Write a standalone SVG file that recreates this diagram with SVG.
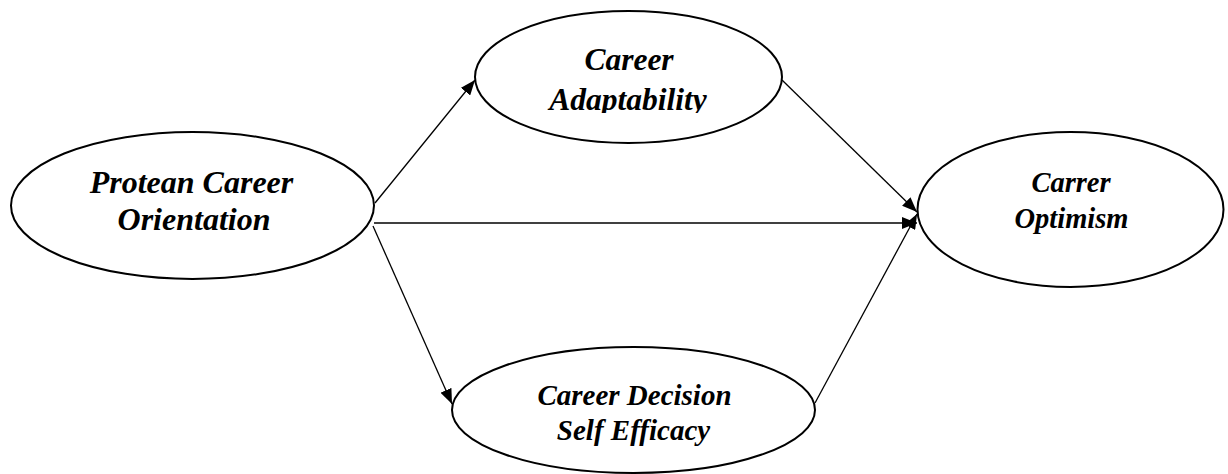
<svg xmlns="http://www.w3.org/2000/svg" width="1228" height="474" viewBox="0 0 1228 474">
  <style>
    .node ellipse { fill: #ffffff; stroke: #000000; stroke-width: 2; }
    .node text { font-weight: bold; font-style: italic; fill: #000000; text-anchor: middle; }
    .edge { stroke: #000000; stroke-width: 1.3; fill: none; marker-end: url(#arrow); }
  </style>
  <defs>
    <marker id="arrow" markerUnits="userSpaceOnUse" markerWidth="16" markerHeight="12" refX="15" refY="6" orient="auto">
      <path d="M0,0 L15,6 L0,12 Z" fill="#000000"/>
    </marker>
    <clipPath id="clipAdapt">
      <rect x="470" y="0" width="320" height="113"/>
    </clipPath>
  </defs>
  <rect width="1228" height="474" fill="#ffffff"/>

  <g id="connectors">
    <line class="edge" x1="375" y1="203" x2="475" y2="80"/>
    <line class="edge" x1="782" y1="80" x2="917" y2="212"/>
    <line class="edge" x1="374" y1="223" x2="917" y2="223"/>
    <line class="edge" x1="373" y1="226" x2="452" y2="404"/>
    <line class="edge" x1="815" y1="403" x2="917" y2="214"/>
  </g>

  <g id="protean" class="node" font-family="'Liberation Serif', 'Times New Roman', serif" font-size="32">
    <ellipse cx="192.5" cy="205.5" rx="181.5" ry="73.5"/>
    <text x="191.5" y="193">Protean Career</text>
    <text x="194" y="230">Orientation</text>
  </g>

  <g id="adaptability" class="node" font-family="'Liberation Serif', 'Times New Roman', serif" font-size="31.5">
    <ellipse cx="628.5" cy="77" rx="153.5" ry="66"/>
    <g clip-path="url(#clipAdapt)">
      <text x="629" y="70">Career</text>
      <text x="628" y="110">Adaptability</text>
    </g>
  </g>

  <g id="optimism" class="node" font-family="'Liberation Serif', 'Times New Roman', serif" font-size="28.5">
    <ellipse cx="1070.5" cy="209.5" rx="153" ry="77.5"/>
    <text x="1071" y="192">Carrer</text>
    <text x="1071.5" y="228">Optimism</text>
  </g>

  <g id="decision" class="node" font-family="'Liberation Serif', 'Times New Roman', serif" font-size="29">
    <ellipse cx="633.5" cy="410" rx="181.5" ry="63"/>
    <text x="634.5" y="405">Career Decision</text>
    <text x="633.5" y="440">Self Efficacy</text>
  </g>
</svg>
